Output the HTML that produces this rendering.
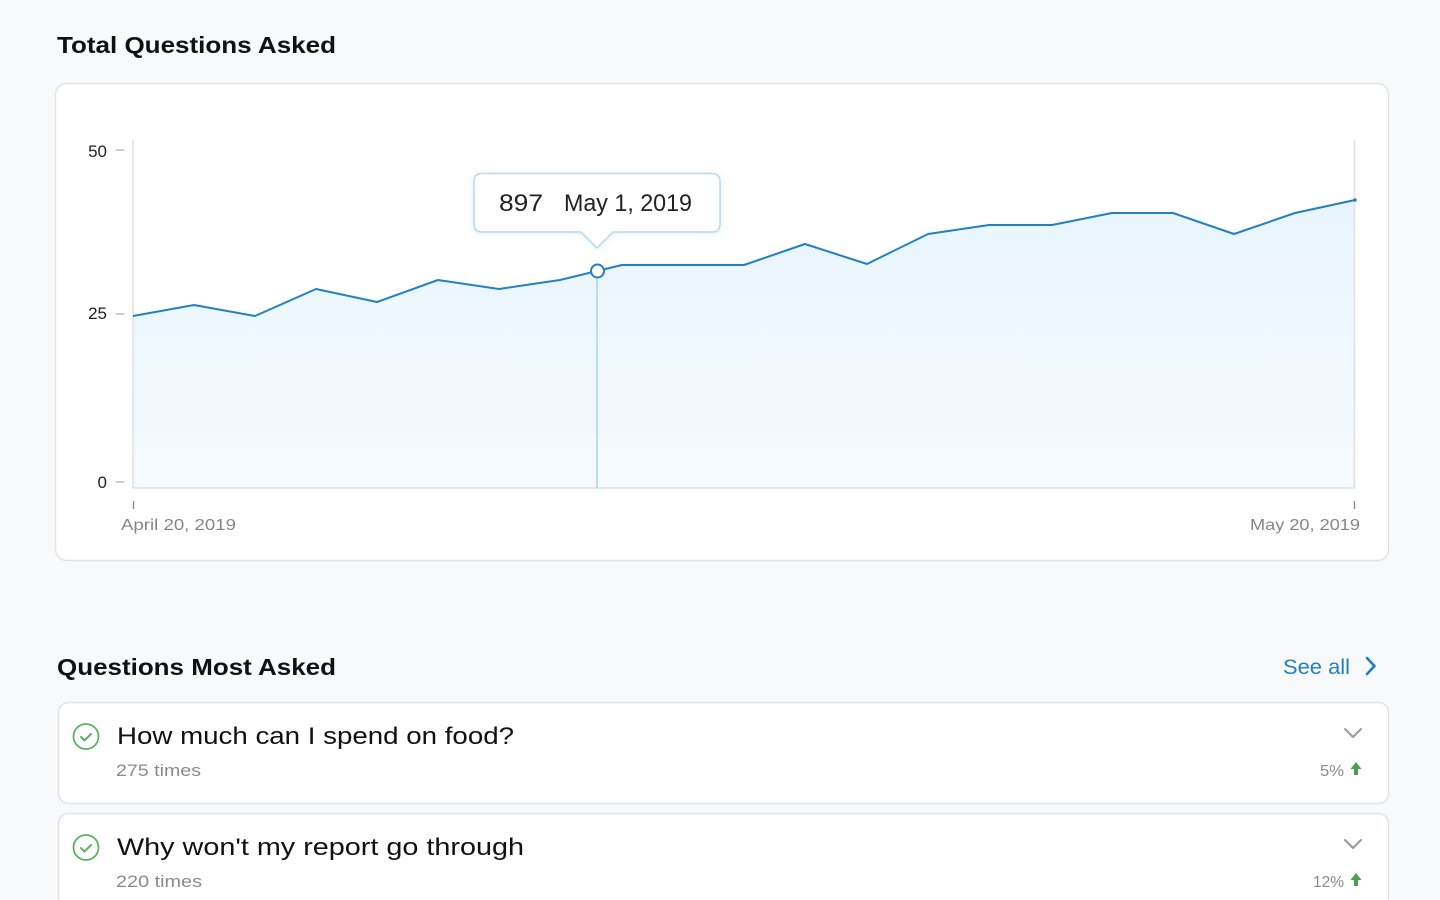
<!DOCTYPE html>
<html>
<head>
<meta charset="utf-8">
<style>
  html,body{margin:0;padding:0;background:#f8f9fa;}
  body{width:1440px;height:900px;overflow:hidden;}
  svg{display:block;font-family:"Liberation Sans","DejaVu Sans",sans-serif;}
</style>
</head>
<body>
<svg width="1440" height="900" viewBox="0 0 1440 900" xmlns="http://www.w3.org/2000/svg">
  <defs>
    <linearGradient id="fillg" x1="0" y1="0" x2="0" y2="1">
      <stop offset="0" stop-color="#e8f5fe"/>
      <stop offset="1" stop-color="#f5fafe"/>
    </linearGradient>
    <filter id="sh" x="-10%" y="-30%" width="120%" height="160%">
      <feDropShadow dx="0" dy="1" stdDeviation="3" flood-color="#8fb9d8" flood-opacity="0.25"/>
    </filter>
  </defs>
  <rect x="0" y="0" width="1440" height="900" fill="#f8f9fa"/>

  <!-- Title -->
  <text x="57" y="53" font-size="23" font-weight="bold" fill="#111" textLength="279" lengthAdjust="spacingAndGlyphs">Total Questions Asked</text>

  <!-- Chart card -->
  <rect x="55.5" y="83.5" width="1333" height="477" rx="11" fill="#ffffff" stroke="#e1e3e5" stroke-width="1.5"/>

  <!-- Area fill -->
  <path d="M133,316 L194,305 L255,316 L316,289 L377,302 L438,280 L499,289 L560,280 L597,271 L622,265 L744,265 L805,244 L867,264 L928,234 L989,225 L1052,225 L1112,213 L1173,213 L1234,234 L1295,213 L1355,200 L1355,488 L133,488 Z" fill="url(#fillg)"/>

  <!-- axes -->
  <line x1="133" y1="140" x2="133" y2="488" stroke="#dfe1e3" stroke-width="1.5"/>
  <line x1="1354.5" y1="140" x2="1354.5" y2="488" stroke="#dfe1e3" stroke-width="1.5"/>
  <line x1="133" y1="488" x2="1355" y2="488" stroke="#dfe1e3" stroke-width="1.5"/>

  <!-- y ticks -->
  <g stroke="#a9a9a9" stroke-width="1.2">
    <line x1="116" y1="150" x2="124" y2="150"/>
    <line x1="116" y1="314" x2="124" y2="314"/>
    <line x1="116" y1="482" x2="124" y2="482"/>
  </g>
  <g font-size="17" fill="#222" text-anchor="end">
    <text x="107" y="157">50</text>
    <text x="107" y="319">25</text>
    <text x="107" y="488">0</text>
  </g>

  <!-- x ticks -->
  <g stroke="#888" stroke-width="1.3">
    <line x1="133.5" y1="501" x2="133.5" y2="509"/>
    <line x1="1354.5" y1="501" x2="1354.5" y2="509"/>
  </g>
  <text x="121" y="530" font-size="16" fill="#858585" textLength="115" lengthAdjust="spacingAndGlyphs">April 20, 2019</text>
  <text x="1250" y="530" font-size="16" fill="#858585" textLength="110" lengthAdjust="spacingAndGlyphs">May 20, 2019</text>

  <!-- hover line -->
  <line x1="597" y1="277" x2="597" y2="488" stroke="#a8d5f0" stroke-width="1.5"/>

  <!-- data line -->
  <path d="M133,316 L194,305 L255,316 L316,289 L377,302 L438,280 L499,289 L560,280 L597,271 L622,265 L744,265 L805,244 L867,264 L928,234 L989,225 L1052,225 L1112,213 L1173,213 L1234,234 L1295,213 L1355,200" fill="none" stroke="#2380c4" stroke-width="2" stroke-linejoin="round"/>
  <circle cx="1355" cy="200" r="1.8" fill="#2380c4"/>

  <!-- hover point -->
  <circle cx="597.5" cy="271" r="6.5" fill="#ffffff" stroke="#2380c4" stroke-width="2"/>

  <!-- tooltip -->
  <g filter="url(#sh)">
    <path d="M482,173.5 H712 Q720,173.5 720,181.5 V224 Q720,232 712,232 H613 L597,248 L581,232 H482 Q474,232 474,224 V181.5 Q474,173.5 482,173.5 Z" fill="#ffffff" stroke="#b7d9f0" stroke-width="1.5"/>
  </g>
  <text x="499" y="211" font-size="24" fill="#222" textLength="44" lengthAdjust="spacingAndGlyphs">897</text>
  <text x="564" y="211" font-size="24" fill="#222" textLength="128" lengthAdjust="spacingAndGlyphs">May 1, 2019</text>

  <!-- Section 2 -->
  <text x="57" y="675" font-size="23" font-weight="bold" fill="#111" textLength="279" lengthAdjust="spacingAndGlyphs">Questions Most Asked</text>
  <text x="1283" y="674" font-size="21" fill="#1f7fc3" textLength="67" lengthAdjust="spacingAndGlyphs">See all</text>
  <path d="M1367,658 L1374.5,666 L1367,674" fill="none" stroke="#1f7fc3" stroke-width="2.6" stroke-linecap="round" stroke-linejoin="round"/>

  <!-- Card 1 -->
  <rect x="58.5" y="702.5" width="1330" height="101" rx="10" fill="#ffffff" stroke="#e1e3e5" stroke-width="1.5"/>
  <circle cx="86" cy="736.5" r="12.5" fill="none" stroke="#5bb263" stroke-width="1.8"/>
  <path d="M81,737 L84.5,740.5 L91,734" fill="none" stroke="#5bb263" stroke-width="2" stroke-linecap="round" stroke-linejoin="round"/>
  <text x="117" y="744" font-size="24" fill="#111" textLength="397" lengthAdjust="spacingAndGlyphs">How much can I spend on food?</text>
  <text x="116" y="776" font-size="17" fill="#8a8a8a" textLength="85" lengthAdjust="spacingAndGlyphs">275 times</text>
  <path d="M1345,729 L1353,737 L1361,729" fill="none" stroke="#9a9a9a" stroke-width="2" stroke-linecap="round" stroke-linejoin="round"/>
  <text x="1320" y="776" font-size="16" fill="#8a8a8a" textLength="24" lengthAdjust="spacingAndGlyphs">5%</text>
  <path d="M1350.5,769 L1356,762 L1361.5,769 L1358,769 L1358,775 L1354,775 L1354,769 Z" fill="#4a9e4f"/>

  <!-- Card 2 -->
  <rect x="58.5" y="813.5" width="1330" height="101" rx="10" fill="#ffffff" stroke="#e1e3e5" stroke-width="1.5"/>
  <circle cx="86" cy="847.5" r="12.5" fill="none" stroke="#5bb263" stroke-width="1.8"/>
  <path d="M81,848 L84.5,851.5 L91,845" fill="none" stroke="#5bb263" stroke-width="2" stroke-linecap="round" stroke-linejoin="round"/>
  <text x="117" y="855" font-size="24" fill="#111" textLength="407" lengthAdjust="spacingAndGlyphs">Why won't my report go through</text>
  <text x="116" y="887" font-size="17" fill="#8a8a8a" textLength="86" lengthAdjust="spacingAndGlyphs">220 times</text>
  <path d="M1345,840 L1353,848 L1361,840" fill="none" stroke="#9a9a9a" stroke-width="2" stroke-linecap="round" stroke-linejoin="round"/>
  <text x="1313" y="887" font-size="16" fill="#8a8a8a" textLength="31" lengthAdjust="spacingAndGlyphs">12%</text>
  <path d="M1350.5,880 L1356,873 L1361.5,880 L1358,880 L1358,886 L1354,886 L1354,880 Z" fill="#4a9e4f"/>
</svg>
</body>
</html>
